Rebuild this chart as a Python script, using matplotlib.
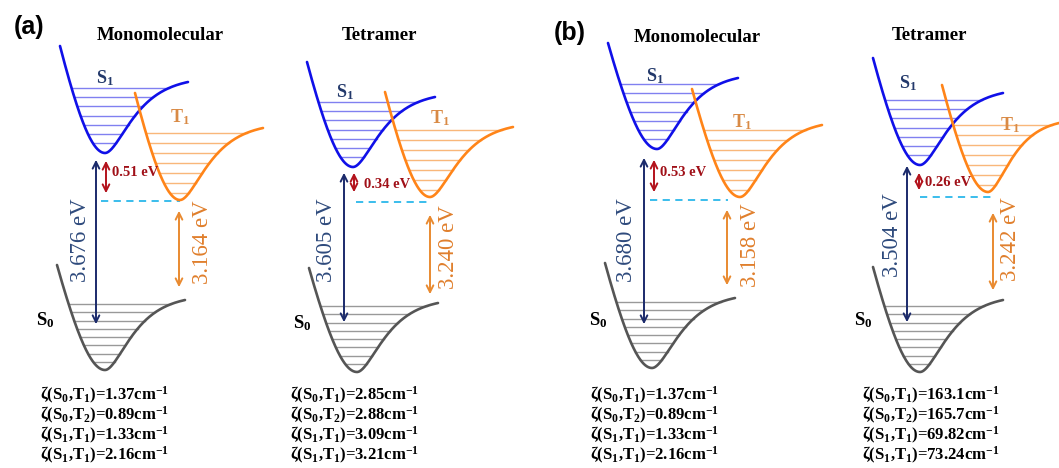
# potential energy schematic: S0 / S1 / T1 wells, monomer vs tetramer

import numpy as np
import matplotlib.pyplot as plt
from matplotlib.patches import FancyArrowPatch

plt.rcParams['font.family'] = 'Liberation Serif'
plt.rcParams['mathtext.fontset'] = 'custom'
plt.rcParams['mathtext.rm'] = 'Liberation Serif:bold'
plt.rcParams['mathtext.it'] = 'Liberation Serif:bold'
plt.rcParams['mathtext.bf'] = 'Liberation Serif:bold'

# data
panel_tags = ["(a)", "", "(b)", ""]
titles = ["Monomolecular", "Tetramer", "Monomolecular", "Tetramer"]
gap_s1_t1 = ["0.51", "0.34", "0.53", "0.26"]
e_s1 = ["3.676", "3.605", "3.680", "3.504"]
e_t1 = ["3.164", "3.240", "3.158", "3.242"]
zeta_pairs = [("0", "1"), ("0", "2"), ("1", "1"), ("1", "1")]
zeta_a_mono = ["1.37", "0.89", "1.33", "2.16"]
zeta_a_tetra = ["2.85", "2.88", "3.09", "3.21"]
zeta_b_mono = ["1.37", "0.89", "1.33", "2.16"]
zeta_b_tetra = ["163.1", "165.7", "69.82", "73.24"]
zetas = [zeta_a_mono, zeta_a_tetra, zeta_b_mono, zeta_b_tetra]

# layout (pixel coords): left top, minimum, right end of each well
s1_geom = [(60, 46, 105, 153, 188, 82), (307, 62, 353, 167, 435, 97),
           (608, 43, 657, 149, 738, 78), (873, 58, 920, 165, 1003, 93)]
t1_geom = [(135, 93, 180, 200, 263, 128), (385, 92, 430, 197, 513, 127),
           (692, 89, 740, 197, 822, 125), (942, 85, 988, 192, 1059, 123)]
s0_geom = [(57, 265, 105, 370, 185, 300), (309, 268, 357, 372, 438, 303),
           (605, 263, 652, 368, 735, 298), (873, 267, 920, 372, 1003, 300)]
navy_arr = [(96, 157, 327), (344, 170, 325), (644, 155, 327), (907, 163, 325)]
red_arr = [(106, 158, 196), (354, 170, 195), (654, 157, 195), (919, 170, 193)]
dash_ln = [(101, 180, 201), (356, 430, 202), (650, 728, 200), (920, 993, 197)]
orange_arr = [(179, 208, 290), (430, 212, 297), (727, 207, 288), (993, 210, 293)]
navy_lbl = [(80, 240), (327, 240), (627, 240), (892, 235)]
red_lbl = [(112, 172), (364, 185), (660, 173), (925, 182)]
orange_lbl = [(202, 242), (448, 247), (750, 245), (1010, 239)]
s1_lbl = [(105, 78), (345, 92), (655, 76), (908, 83)]
t1_lbl = [(180, 117), (440, 118), (742, 122), (1010, 125)]
s0_lbl = [(45, 320), (302, 323), (598, 320), (863, 320)]
title_pos = [(160, 35), (380, 35), (697, 37), (930, 35)]
tag_pos = [(29, 27), None, (570, 33), None]
zeta_x = [40, 290, 590, 862]
zeta_y = [395, 415, 435, 455]


def well(g):
    xl, yl, xm, ym, xr, yr = g
    ul, ur = xl - xm, xr - xm
    hl, hr = ym - yl, ym - yr
    c = -ul * 0.8
    a = 3.3 / ur
    D = hr / (1 - np.exp(-a * ur)) ** 2
    nl = np.sqrt(1 + (ul / c) ** 2) - 1
    uL = np.linspace(ul, 0, 120)
    hL = hl * (np.sqrt(1 + (uL / c) ** 2) - 1) / nl
    uR = np.linspace(0, ur, 160)
    hR = D * (1 - np.exp(-a * uR)) ** 2
    x = np.concatenate([uL, uR]) + xm
    y = ym - np.concatenate([hL, hR])

    def span(h):
        s = 1 + h * nl / hl
        left = xm - c * np.sqrt(s ** 2 - 1)
        right = xm - np.log(1 - np.sqrt(min(h / D, 0.999))) / a
        return left, min(right, xr)
    return x, y, span


def draw_well(ax, g, color, lcolor, heights):
    x, y, span = well(g)
    ym = g[3]
    for h in heights:
        x0, x1 = span(h)
        ax.plot([x0, x1], [ym - h, ym - h], color=lcolor, lw=1.0, zorder=1)
    ax.plot(x, y, color=color, lw=1.9, zorder=3, solid_capstyle='round')


def darrow(ax, x, y0, y1, color):
    ax.add_patch(FancyArrowPatch((x, y0), (x, y1), arrowstyle='<->',
                                 mutation_scale=12, lw=1.4, color=color, zorder=4))


fig = plt.figure(figsize=(10.59, 4.68), dpi=100)
ax = fig.add_axes([0, 0, 1, 1])
ax.set_xlim(0, 1059)
ax.set_ylim(468, 0)
ax.axis('off')

for i in range(4):
    draw_well(ax, s1_geom[i], '#1010e8', '#8080f0', np.linspace(10, 65, 7))
    draw_well(ax, t1_geom[i], '#ff8418', '#f9b77a', np.linspace(7, 67, 7))
    draw_well(ax, s0_geom[i], '#555555', '#999999', np.linspace(8, 66, 8))

    darrow(ax, navy_arr[i][0], navy_arr[i][1], navy_arr[i][2], '#1b2a6b')
    darrow(ax, red_arr[i][0], red_arr[i][1], red_arr[i][2], '#b3121c')
    darrow(ax, orange_arr[i][0], orange_arr[i][1], orange_arr[i][2], '#e98a30')
    ax.plot([dash_ln[i][0], dash_ln[i][1]], [dash_ln[i][2]] * 2, color='#2bb8ea',
            lw=1.3, ls=(0, (4, 3)), zorder=2)

    ax.text(navy_lbl[i][0], navy_lbl[i][1], e_s1[i] + " eV", rotation=90,
            ha='center', va='center', fontsize=16.5, color='#2e4a7c')
    ax.text(orange_lbl[i][0], orange_lbl[i][1], e_t1[i] + " eV", rotation=90,
            ha='center', va='center', fontsize=16.5, color='#e07f2c')
    ax.text(red_lbl[i][0], red_lbl[i][1], gap_s1_t1[i] + " eV", ha='left',
            va='center', fontsize=10.5, fontweight='bold', color='#a01018')

    ax.text(s1_lbl[i][0], s1_lbl[i][1], r"S$_1$", ha='center', va='center',
            fontsize=13, fontweight='bold', color='#23396b')
    ax.text(t1_lbl[i][0], t1_lbl[i][1], r"T$_1$", ha='center', va='center',
            fontsize=13, fontweight='bold', color='#d98a45')
    ax.text(s0_lbl[i][0], s0_lbl[i][1], r"S$_0$", ha='center', va='center',
            fontsize=13.5, fontweight='bold', color='black')

    ax.text(title_pos[i][0], title_pos[i][1], titles[i], ha='center', va='center',
            fontsize=13.5, fontweight='bold')
    if tag_pos[i] is not None:
        ax.text(tag_pos[i][0], tag_pos[i][1], panel_tags[i], ha='center', va='center',
                fontsize=18, fontweight='bold', family='Liberation Sans')

    for k in range(4):
        sa, tb = zeta_pairs[k]
        ax.text(zeta_x[i], zeta_y[k],
                "ζ(S$_" + sa + "$,T$_" + tb + "$)=" + zetas[i][k] + "cm$^{-1}$",
                ha='left', va='center', fontsize=12, fontweight='bold')

fig.savefig("out.png", dpi=100)
